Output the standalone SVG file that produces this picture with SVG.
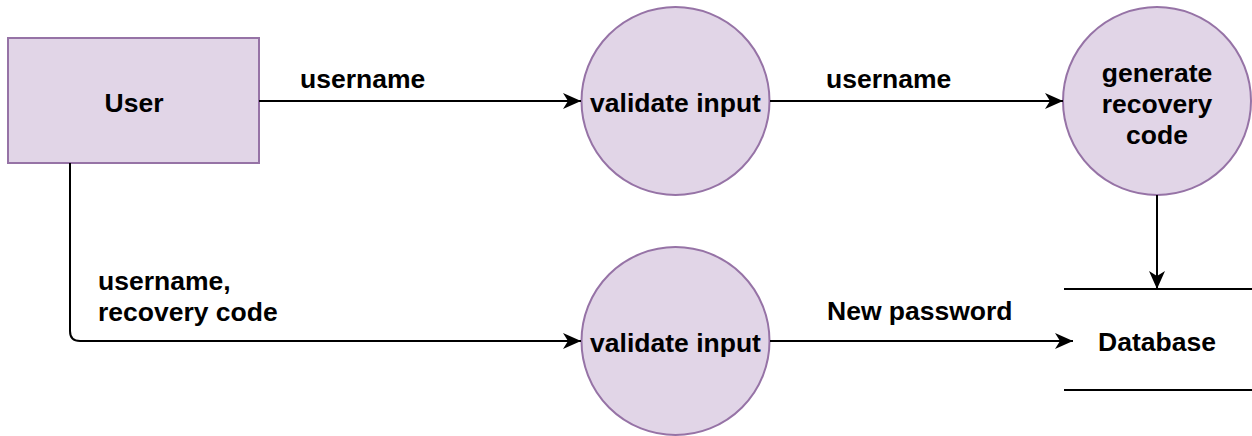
<svg xmlns="http://www.w3.org/2000/svg" width="1252" height="436" viewBox="0 0 1252 436">
<style>
.node{fill:#e1d5e7;stroke:#9673a6;stroke-width:2}
.t{font-family:"Liberation Sans",Arial,sans-serif;font-weight:bold;font-size:26.5px;fill:#000}
.c{text-anchor:middle}
.edge{fill:none;stroke:#000;stroke-width:2}
</style>
<defs>
<marker id="arr" markerUnits="userSpaceOnUse" markerWidth="20" markerHeight="18" refX="18" refY="8" orient="auto">
<path d="M0,0 L18,8 L0,16 L5,8 Z" fill="#000"/>
</marker>
</defs>
<g id="user">
<rect class="node" x="8" y="38" width="251" height="125"/>
<text class="t c" x="134" y="112">User</text>
</g>
<g id="validate1">
<circle class="node" cx="675.5" cy="101" r="94"/>
<text class="t c" x="675.5" y="112">validate input</text>
</g>
<g id="generate">
<circle class="node" cx="1157" cy="101" r="94"/>
<text class="t c" x="1157" y="82">generate</text>
<text class="t c" x="1157" y="113">recovery</text>
<text class="t c" x="1157" y="144">code</text>
</g>
<g id="validate2">
<circle class="node" cx="675.5" cy="341" r="94"/>
<text class="t c" x="675.5" y="352">validate input</text>
</g>
<g id="database">
<line class="edge" x1="1064" y1="289" x2="1252" y2="289"/>
<line class="edge" x1="1064" y1="390" x2="1252" y2="390"/>
<text class="t c" x="1157" y="351">Database</text>
</g>
<g id="connectors">
<line class="edge" x1="259" y1="101" x2="581" y2="101" marker-end="url(#arr)"/>
<line class="edge" x1="770" y1="101" x2="1063" y2="101" marker-end="url(#arr)"/>
<line class="edge" x1="1157" y1="195" x2="1157" y2="289" marker-end="url(#arr)"/>
<path class="edge" d="M70,163 V331 Q70,341 80,341 H581" marker-end="url(#arr)"/>
<line class="edge" x1="770" y1="341" x2="1073" y2="341" marker-end="url(#arr)"/>
<text class="t" x="300" y="88">username</text>
<text class="t" x="826" y="88">username</text>
<text class="t" x="98" y="290">username,</text>
<text class="t" x="98" y="321">recovery code</text>
<text class="t" x="827" y="320">New password</text>
</g>
</svg>
